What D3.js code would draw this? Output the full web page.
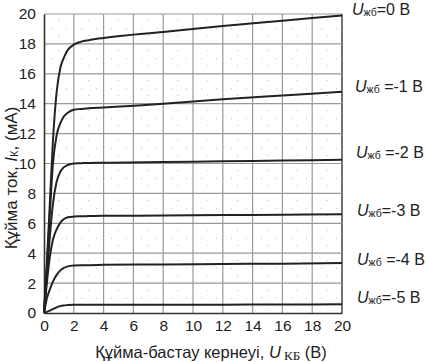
<!DOCTYPE html>
<html><head><meta charset="utf-8">
<script src="https://cdn.jsdelivr.net/npm/d3@7"></script>
<style>body{margin:0;background:#fff}svg{display:block}text{font-family:"Liberation Sans",Arial,sans-serif;fill:#222}</style>
</head><body><svg id="c" width="426" height="362"></svg>
<script>
const xTicks = [0,2,4,6,8,10,12,14,16,18,20];
const yTicks = [0,2,4,6,8,10,12,14,16,18,20];
const gateVoltages = ["0","-1","-2","-3","-4","-5"];
const uds = [0,0.2,0.4,0.6,0.85,1.1,1.3,1.6,2,2.5,3,4,8,12,16,20];
const id0  = [0,3.5,7.5,11.5,14.8,16.4,17.0,17.6,17.95,18.15,18.25,18.4,18.8,19.2,19.55,19.9];
const id1  = [0,3.2,6.8,10.0,11.9,12.7,13.1,13.4,13.6,13.65,13.7,13.75,14.0,14.3,14.55,14.8];
const id2  = [0,2.6,5.2,7.3,8.8,9.45,9.72,9.9,10.0,10.02,10.04,10.05,10.1,10.15,10.2,10.25];
const id3  = [0,2.1,3.8,4.9,5.6,6.05,6.25,6.4,6.45,6.47,6.48,6.5,6.52,6.55,6.57,6.6];
const id4  = [0,1.0,1.6,2.1,2.55,2.85,3.0,3.12,3.18,3.2,3.2,3.22,3.25,3.28,3.3,3.35];
const id5  = [0,0.08,0.16,0.26,0.38,0.46,0.5,0.53,0.55,0.55,0.55,0.55,0.56,0.56,0.57,0.58];
const series = [id0,id1,id2,id3,id4,id5];
const labelY = [10,87,153,211,260,298];
const labelX = [352,355,356,357,357,357];

const svg = d3.select("#c");
const x = d3.scaleLinear().domain([0,20]).range([44,342]);
const y = d3.scaleLinear().domain([0,20]).range([313,14]);

// minor dotted grid
const minor = d3.range(1,20,2);
svg.append("g").selectAll("line").data(minor).join("line")
  .attr("x1",d=>x(d)).attr("x2",d=>x(d)).attr("y1",y(0)).attr("y2",y(20))
  .attr("stroke","#bbb").attr("stroke-width",1).attr("stroke-dasharray","1,14").attr("stroke-dashoffset",-7);
svg.append("g").selectAll("line").data(minor).join("line")
  .attr("y1",d=>y(d)).attr("y2",d=>y(d)).attr("x1",x(0)).attr("x2",x(20))
  .attr("stroke","#bbb").attr("stroke-width",1).attr("stroke-dasharray","1,14").attr("stroke-dashoffset",-7);

// major grid
svg.append("g").selectAll("line").data(xTicks.slice(1)).join("line")
  .attr("x1",d=>x(d)).attr("x2",d=>x(d)).attr("y1",y(0)).attr("y2",y(20))
  .attr("stroke",d=>d===20?"#444":"#999").attr("stroke-width",d=>d===20?1.5:1.2);
svg.append("g").selectAll("line").data(yTicks.slice(1)).join("line")
  .attr("y1",d=>y(d)).attr("y2",d=>y(d)).attr("x1",x(0)).attr("x2",x(20))
  .attr("stroke","#999").attr("stroke-width",1.2);

// axes
const xa = svg.append("g").attr("transform",`translate(0,${y(0)})`)
  .call(d3.axisBottom(x).tickValues(xTicks).tickSize(0).tickPadding(7));
const ya = svg.append("g").attr("transform",`translate(${x(0)},0)`)
  .call(d3.axisLeft(y).tickValues(yTicks).tickSize(0).tickPadding(8));
[xa,ya].forEach(a=>{
  a.select(".domain").attr("stroke","#333").attr("stroke-width",1.6);
  a.selectAll("text").attr("font-family","Liberation Sans, Arial, sans-serif").attr("font-size",15.5).attr("fill","#333");
});

// curves
const line = d3.line().x((d,i)=>x(uds[i])).y(d=>y(d)).curve(d3.curveMonotoneX);
svg.append("g").selectAll("path").data(series).join("path")
  .attr("d",line).attr("fill","none").attr("stroke","#222").attr("stroke-width",2);

// right labels
const lg = svg.append("g");
gateVoltages.forEach((v,i)=>{
  const t = lg.append("text").attr("x",labelX[i]).attr("y",labelY[i]+5).attr("font-size",16);
  t.append("tspan").attr("font-style","italic").text("U");
  t.append("tspan").attr("font-size",10.5).attr("dy",1).text("жб");
  t.append("tspan").attr("dy",-1).text((i===0?"=":(i===2||i===1||i===4?" =":"="))+v+" В");
});

// x axis label
const xl = svg.append("text").attr("x",211).attr("y",358).attr("text-anchor","middle").attr("font-size",16.5);
xl.append("tspan").text("Құйма-бастау кернеуі, ");
xl.append("tspan").attr("font-style","italic").text("U");
xl.append("tspan").attr("font-family","Liberation Serif, Times New Roman, serif").attr("font-size",13).attr("dy",2).text(" КБ");
xl.append("tspan").attr("dy",-2).text(" (В)");

// y axis label
const yl = svg.append("text").attr("transform","translate(17,178) rotate(-90)").attr("text-anchor","middle").attr("font-size",17);
yl.append("tspan").text("Құйма ток, ");
yl.append("tspan").attr("font-style","italic").text("I");
yl.append("tspan").attr("font-size",11).attr("dy",1).text("К");
yl.append("tspan").attr("dy",-1).text(", (мА)");
</script></body></html>
